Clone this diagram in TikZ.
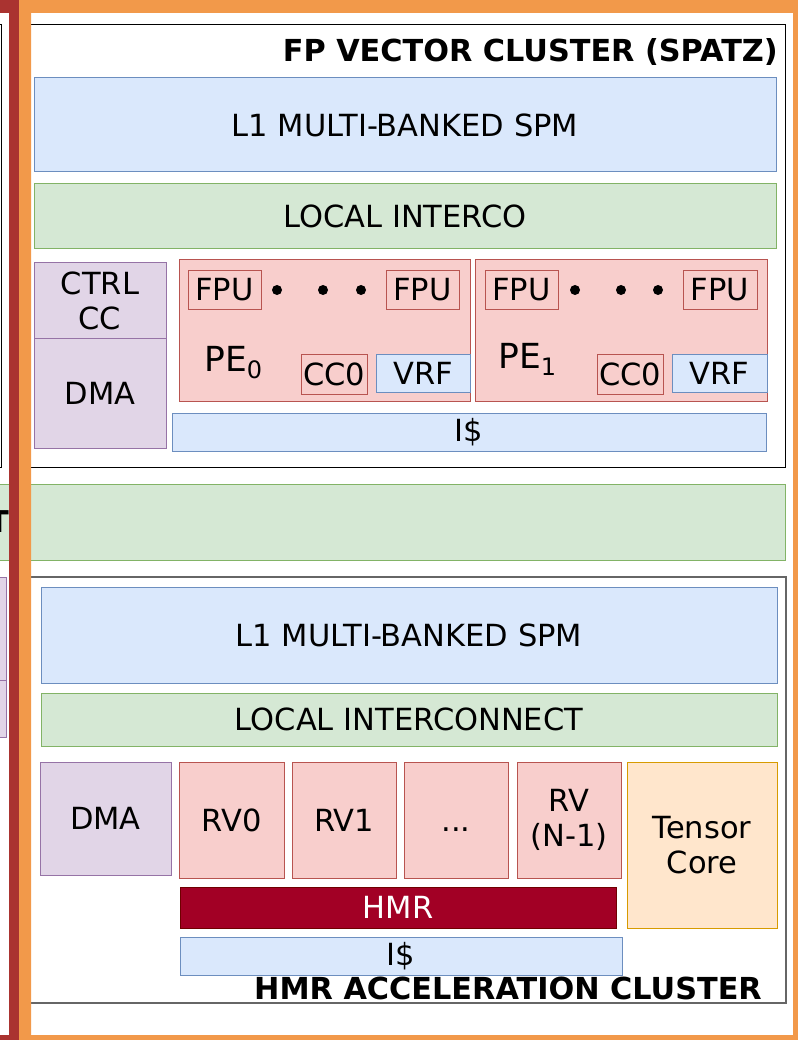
\documentclass[tikz,border=0pt]{standalone}
\usepackage{fontspec}
\setmainfont{DejaVu Sans}
\definecolor{bluefill}{HTML}{DAE8FC}\definecolor{blueline}{HTML}{6C8EBF}
\definecolor{greenfill}{HTML}{D5E8D4}\definecolor{greenline}{HTML}{82B366}
\definecolor{purplefill}{HTML}{E1D5E7}\definecolor{purpleline}{HTML}{9673A6}
\definecolor{redfill}{HTML}{F8CECC}\definecolor{redline}{HTML}{B85450}
\definecolor{orangefill}{HTML}{FFE6CC}\definecolor{orangeline}{HTML}{D79B00}
\definecolor{hmrfill}{HTML}{A20025}\definecolor{hmrline}{HTML}{6F0000}
\definecolor{frameorange}{HTML}{F2994A}
\definecolor{framered}{HTML}{AA3330}
\begin{document}
\begin{tikzpicture}[x=1pt,y=-1pt,
  blk/.style={draw, line width=1pt, inner sep=0pt, outer sep=0pt,
    align=center, font=\fontsize{30.5}{35}\selectfont},
  bluebox/.style={blk, fill=bluefill, draw=blueline},
  greenbox/.style={blk, fill=greenfill, draw=greenline},
  purplebox/.style={blk, fill=purplefill, draw=purpleline},
  redbox/.style={blk, fill=redfill, draw=redline},
  tensorbox/.style={blk, fill=orangefill, draw=orangeline},
  hmrbox/.style={blk, fill=hmrfill, draw=hmrline, text=white},
  cluster/.style={draw=black, line width=1pt},
  title/.style={inner sep=0pt, anchor=base east, font=\fontsize{30.3}{36}\selectfont\bfseries},
  dot/.style={circle, fill=black, inner sep=0pt, minimum size=10pt},
  petext/.style={inner sep=0pt, anchor=base west}
]
\useasboundingbox (0,0) rectangle (797,1040);
\fill[white] (0,0) rectangle (797,1040);

% neighbouring cluster on the left, mostly outside the page
\draw[cluster] (-60,25) rectangle (1.5,467);
\node[purplebox, minimum width=66, minimum height=103] (lp1) at (-26.5,628.5) {};
\node[purplebox, minimum width=66, minimum height=57] (lp2) at (-26.5,708.5) {};

% ---------------- FP vector cluster ----------------
\draw[cluster] (25,25) rectangle (785,467);
\node[title] (fptitle) at (778,62) {FP VECTOR CLUSTER (SPATZ)};
\node[bluebox, minimum width=742, minimum height=94] (fpl1) at (405,125) {L1 MULTI-BANKED SPM};
\node[greenbox, minimum width=742, minimum height=65] (fpic) at (405,216.5) {LOCAL INTERCO};
\node[purplebox, minimum width=132, minimum height=75] (ctrl) at (100,300.5) {CTRL\\CC};
\node[purplebox, minimum width=132, minimum height=110] (fpdma) at (100,393) {DMA};

% processing element 0
\node[redbox, minimum width=291, minimum height=141] (pe0) at (324.5,330.5) {};
\node[redbox, minimum width=73, minimum height=38] (fpu00) at (224.5,290) {FPU};
\node[redbox, minimum width=73, minimum height=38] (fpu01) at (422.5,290) {FPU};
\node[dot] (d00) at (277,290) {};
\node[dot] (d01) at (323,290) {};
\node[dot] (d02) at (361,290) {};
\node[petext] (pe0lbl) at (204,371) {\fontsize{34.5}{40}\selectfont PE\raisebox{-7.5pt}{\fontsize{24}{28}\selectfont 0}};
\node[redbox, minimum width=66, minimum height=40] (cc00) at (334,374) {CC0};
\node[bluebox, minimum width=94, minimum height=38] (vrf0) at (423,373) {VRF};

% processing element 1
\node[redbox, minimum width=292, minimum height=141] (pe1) at (621,330.5) {};
\node[redbox, minimum width=73, minimum height=38] (fpu10) at (521.5,290) {FPU};
\node[redbox, minimum width=74, minimum height=38] (fpu11) at (720,290) {FPU};
\node[dot] (d10) at (575,290) {};
\node[dot] (d11) at (621,290) {};
\node[dot] (d12) at (658,290) {};
\node[petext] (pe1lbl) at (498,368) {\fontsize{34.5}{40}\selectfont PE\raisebox{-7.5pt}{\fontsize{24}{28}\selectfont 1}};
\node[redbox, minimum width=66, minimum height=40] (cc01) at (630,374) {CC0};
\node[bluebox, minimum width=95, minimum height=38] (vrf1) at (719.5,373) {VRF};

\node[bluebox, minimum width=594, minimum height=38] (fpicache) at (469,432) {I\$};

% global interconnect band
\node[greenbox, minimum width=795, minimum height=76] (glob) at (387.5,522) {};
\node[inner sep=0pt, font=\fontsize{30}{36}\selectfont\bfseries] (globlbl) at (-1.5,522) {T};

% ---------------- HMR acceleration cluster ----------------
\draw[cluster, draw=black!60, line width=1.5pt] (25,577) rectangle (786,1003);
\node[bluebox, minimum width=736, minimum height=96] (hl1) at (409,635) {L1 MULTI-BANKED SPM};
\node[greenbox, minimum width=736, minimum height=53] (hic) at (409,719.5) {LOCAL INTERCONNECT};
\node[purplebox, minimum width=131, minimum height=113] (hdma) at (105.5,818.5) {DMA};
\node[redbox, minimum width=105, minimum height=116] (rv0) at (231.5,820) {RV0};
\node[redbox, minimum width=104, minimum height=116] (rv1) at (344,820) {RV1};
\node[redbox, minimum width=104, minimum height=116] (rvd) at (456,820) {\vphantom{RV0}...};
\node[redbox, minimum width=104, minimum height=116] (rvn) at (569,820) {RV\\(N-1)};
\node[tensorbox, minimum width=150, minimum height=166] (tensor) at (702,845) {Tensor\\Core};
\node[hmrbox, minimum width=436, minimum height=41] (hmr) at (398,907.5) {HMR};
\node[bluebox, minimum width=442, minimum height=38] (hicache) at (401,956) {I\$};
\node[title] (hmrtitle) at (762,999) {HMR ACCELERATION CLUSTER};

% outer frames
\fill[framered, even odd rule] (-60,0) rectangle (19,1040) (-60,13) rectangle (9,1035);
\fill[frameorange, even odd rule] (19,0) rectangle (820,1060) (31,13) rectangle (793,1035);
\end{tikzpicture}
\end{document}
